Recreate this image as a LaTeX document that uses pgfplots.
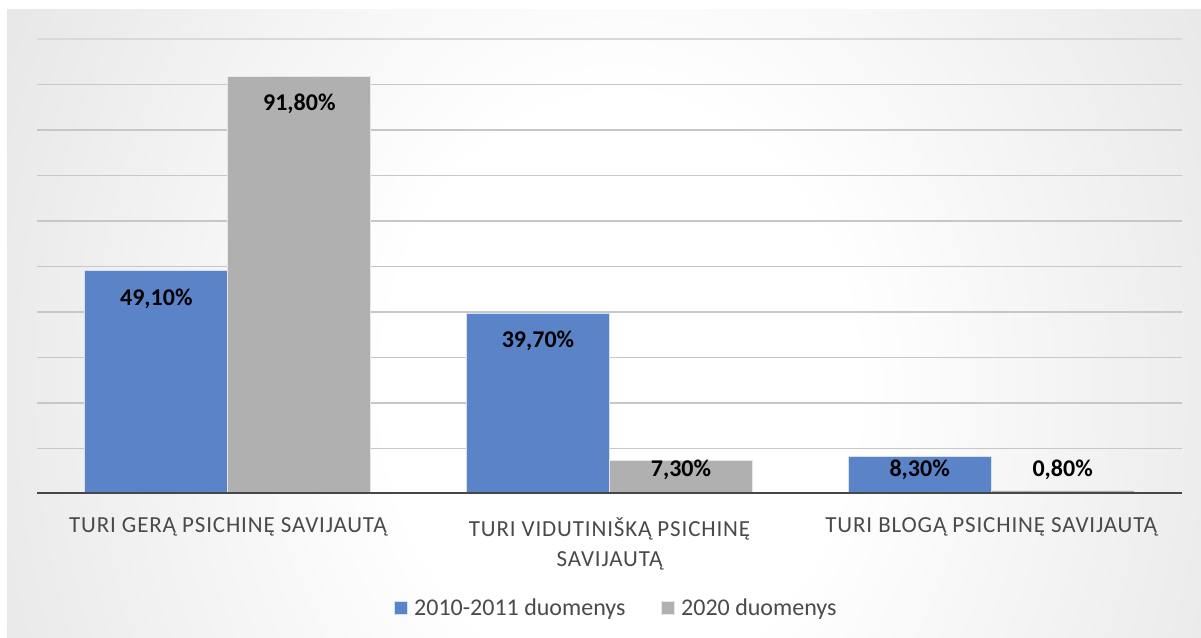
\documentclass[border=0pt]{standalone}
\usepackage{fontspec}
\setmainfont{Carlito}
\usepackage{pgfplots}
\pgfplotsset{compat=1.18}
\usepackage{pgfplotstable}
\definecolor{barblue}{HTML}{5B84C8}
\definecolor{bargray}{HTML}{B0B0B0}
\definecolor{labgray}{HTML}{4A4A4A}
\pgfdeclareradialshading{bgshade}{\pgfpoint{0bp}{0bp}}{color(0bp)=(white); color(9bp)=(white); color(50bp)=(black!22); color(75bp)=(black!25)}

\pgfplotstableread{
x v
0 49.1
1 39.7
2 8.3
}\tblA
\pgfplotstableread{
x v
0 91.8
1 7.3
2 0.8
}\tblB

\begin{document}
\begin{tikzpicture}
\useasboundingbox (0,0) rectangle (1201bp,638bp);
\fill[white] (0,0) rectangle (1201bp,638bp);
\begin{scope}
\clip (7bp,0) rectangle (1201bp,628bp);
\shade[shading=bgshade] (-30bp,-550bp) rectangle (1270bp,1050bp);
\end{scope}
\begin{axis}[
  at={(37bp,144bp)}, anchor=south west,
  scale only axis, width=1145bp, height=455bp,
  xmin=-0.5, xmax=2.5, ymin=0, ymax=100,
  ybar=0pt, bar width=143bp,
  xtick={0,1,2},
  xticklabels={{TURI GERĄ PSICHINĘ SAVIJAUTĄ},{TURI VIDUTINIŠKĄ PSICHINĘ\\SAVIJAUTĄ},{TURI BLOGĄ PSICHINĘ SAVIJAUTĄ}},
  xticklabel style={font=\fontsize{23bp}{30bp}\selectfont\addfontfeature{LetterSpace=3.7}, text=labgray, align=center, yshift=-20bp},
  ytick={10,20,...,90}, yticklabels={},
  extra y ticks={100}, extra y tick labels={},
  extra y tick style={major grid style={line width=1.5bp, black!15}},
  ymajorgrids, major grid style={line width=1.5bp, black!22},
  axis line style={draw=none}, major tick length=0pt,
  legend image code/.code={\fill[#1, line width=0.75bp] (0bp,-6.5bp) rectangle (13bp,6.5bp);},
  legend style={at={(0.5052,-0.25)}, anchor=center, draw=none, fill=none,
    legend columns=2, font=\fontsize{24bp}{28bp}\selectfont, text=labgray,
    nodes={inner sep=0pt},
    /tikz/every odd column/.append style={column sep=6bp},
    /tikz/every even column/.append style={column sep=36bp}},
  legend cell align=left,
  nodes near coords={\pgfmathprintnumber[fixed,fixed zerofill,precision=2,use comma,assume math mode=true]{\pgfplotspointmeta}\%},
  visualization depends on={max(\thisrow{v}-6.15,5.4)-\thisrow{v} \as \dy},
  every node near coord/.append style={anchor=center, yshift=\dy*4.55bp, font=\fontsize{24bp}{28bp}\selectfont\bfseries, text=black},
]
\addplot[fill=barblue, draw=white!75!barblue, line width=0.75bp] table[x=x,y=v]{\tblA};
\addplot[fill=bargray, draw=white!70!bargray, line width=0.75bp] table[x=x,y=v]{\tblB};
\draw[line width=3bp, black!72] (rel axis cs:0,0) -- (rel axis cs:1,0);
\legend{2010-2011 duomenys, 2020 duomenys}
\end{axis}
\end{tikzpicture}
\end{document}
